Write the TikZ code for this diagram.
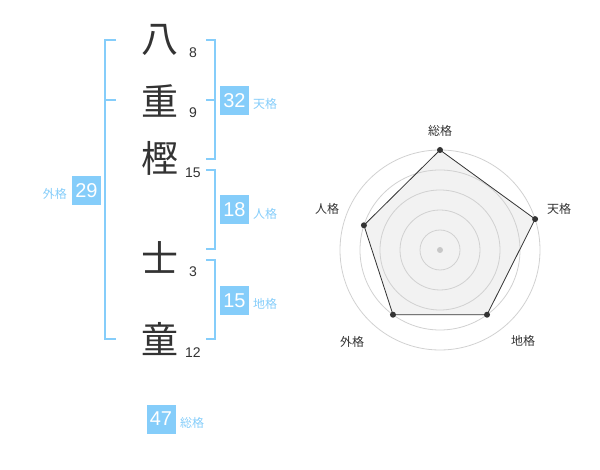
\documentclass[tikz,border=0pt]{standalone}
\usepackage{fontspec}
\setmainfont{Liberation Sans}
\newfontfamily\jpfont{Noto Sans CJK JP}
\definecolor{kakublue}{RGB}{133,205,250}
\definecolor{inkgray}{RGB}{51,51,51}

\begin{document}
\begin{tikzpicture}[x=1pt,y=-1pt,
  kanji/.style={anchor=base,text=inkgray,inner sep=0pt,font=\jpfont\fontsize{37}{37}\selectfont},
  strokes/.style={anchor=base,text=inkgray,inner sep=0pt,font=\fontsize{14}{14}\selectfont},
  kakubox/.style={fill=kakublue,text=white,minimum size=29pt,inner sep=0pt,font=\fontsize{20}{20}\selectfont},
  kakuname/.style={text=kakublue,inner sep=0pt,font=\jpfont\fontsize{12}{12}\selectfont},
  bracket/.style={draw=kakublue,line width=2pt},
  axisname/.style={text=inkgray,inner sep=0pt,font=\jpfont\fontsize{12}{12}\selectfont}]
  \useasboundingbox (0,0) rectangle (600,470);
  % name column
  \node [kanji] (c1) at (160,53) {八};
  \node [kanji] (c2) at (160,116) {重};
  \node [kanji] (c3) at (160,173) {樫};
  \node [kanji] (c4) at (160,273) {士};
  \node [kanji] (c5) at (160,354) {童};
  \node [strokes] (s1) at (193,57.5) {8};
  \node [strokes] (s2) at (193,117.5) {9};
  \node [strokes] (s3) at (193,178) {15};
  \node [strokes] (s4) at (193,277) {3};
  \node [strokes] (s5) at (193,357.5) {12};
  % brackets
  \draw [bracket] (116,40)--(105,40)--(105,339)--(116,339);
  \draw [bracket] (105,100)--(116,100);
  \draw [bracket] (206,40)--(215,40)--(215,159)--(206,159);
  \draw [bracket] (206,100)--(215,100);
  \draw [bracket] (206,170)--(215,170)--(215,249)--(206,249);
  \draw [bracket] (206,260)--(215,260)--(215,339)--(206,339);
  % boxes
  \node [kakubox] (ten) at (234.5,100.5) {32};
  \node [kakuname,anchor=west] (tenl) at (253,104) {天格};
  \node [kakubox] (jin) at (234.5,210) {18};
  \node [kakuname,anchor=west] (jinl) at (253,213.5) {人格};
  \node [kakubox] (chi) at (234.5,300.5) {15};
  \node [kakuname,anchor=west] (chil) at (253,304) {地格};
  \node [kakubox] (gai) at (86.5,190.5) {29};
  \node [kakuname,anchor=east] (gail) at (67,194) {外格};
  \node [kakubox] (sou) at (161,419) {47};
  \node [kakuname,anchor=west] (soul) at (180,422.5) {総格};
  % radar
  \begin{scope}[shift={(440,250)}]
    \foreach \ang/\val/\nm/\lx/\ly [count=\i] in {-90/5/総格/0/-119,-18/5/天格/119/-41,
        54/4/地格/83/91,126/4/外格/-88/92,198/4/人格/-113/-41} {
      \coordinate (v\i) at (\ang:\val*20);
      \node [axisname] (axis\i) at (\lx,\ly) {\nm};
    }
    \fill [black!5] (v1)--(v2)--(v3)--(v4)--(v5)--cycle;
    \foreach \r in {20,40,...,100}
      \draw [black!18,line width=0.8pt] (0,0) circle [radius=\r];
    \fill [black!22] (0,0) circle [radius=3];
    \draw [inkgray,line width=0.8pt] (v1)--(v2)--(v3)--(v4)--(v5)--cycle;
    \foreach \i in {1,...,5}
      \fill [inkgray] (v\i) circle [radius=3];
  \end{scope}
\end{tikzpicture}
\end{document}
